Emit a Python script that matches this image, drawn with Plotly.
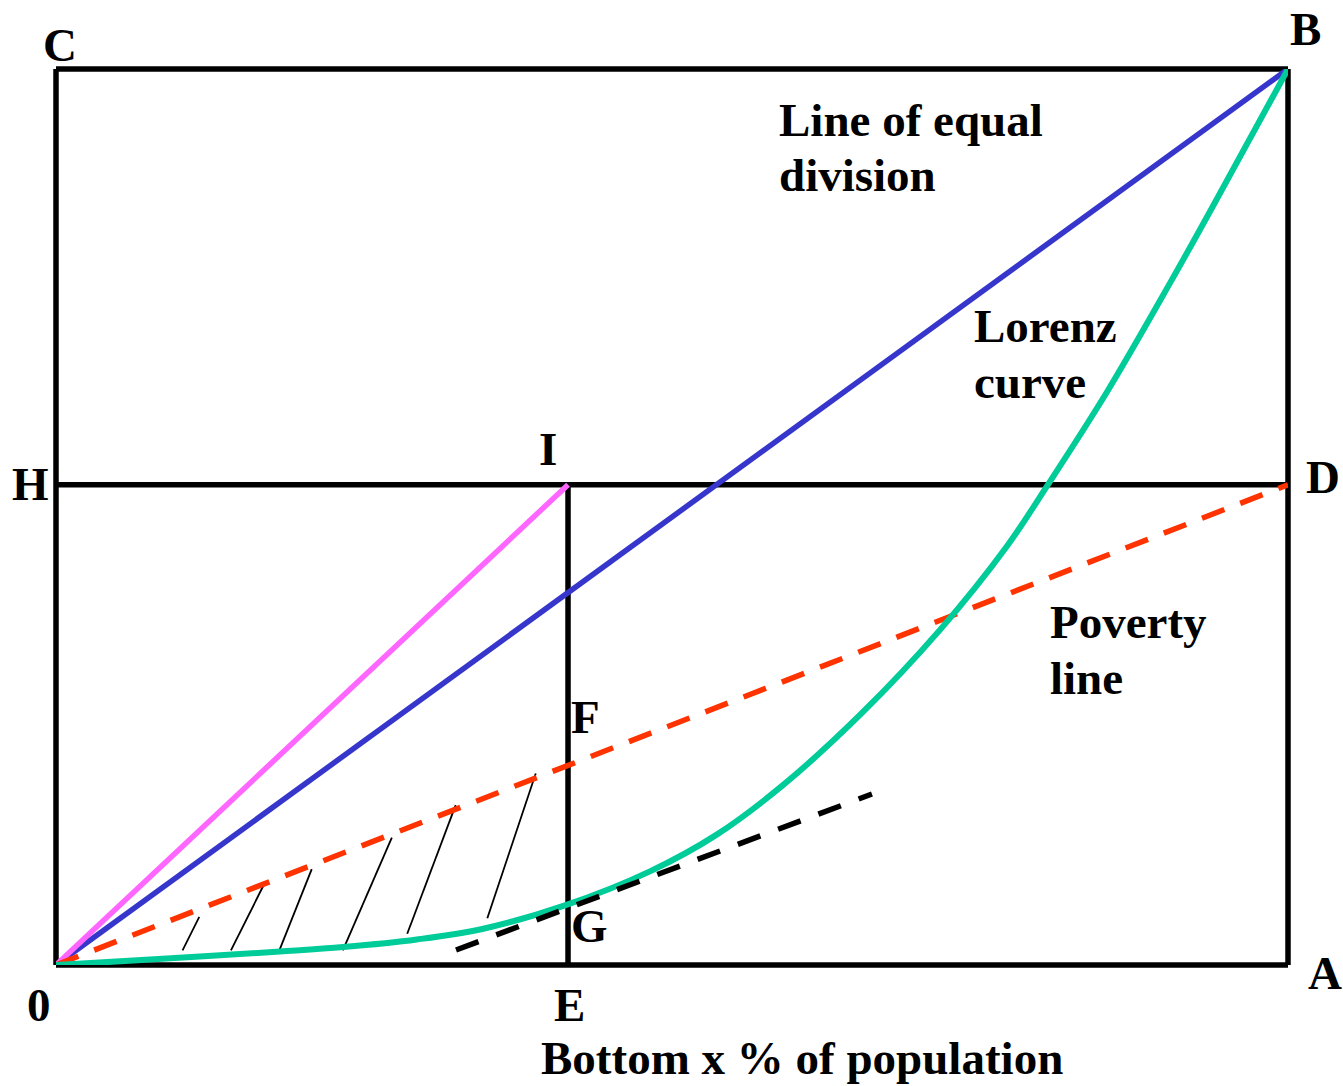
import plotly.graph_objects as go

# ---------------- data (unit square: x = population share, y = income share) ----
# Lorenz curve
lorenz_x = [0.0, 0.0763, 0.1818, 0.2332, 0.2928, 0.3468, 0.4131, 0.4821, 0.5363,
            0.5903, 0.6540, 0.7175, 0.7717, 0.8041, 0.8528, 0.9042, 0.9407, 1.0]
lorenz_y = [0.0, 0.0060, 0.0150, 0.0200, 0.0285, 0.0405, 0.0665, 0.1045, 0.1455,
            0.2010, 0.2810, 0.3740, 0.4670, 0.5340, 0.6390, 0.7610, 0.8510, 1.0]

# line of equal division O -> B
equal_x = [0.0, 1.0]
equal_y = [0.0, 1.0]

# key points
E_x = 0.4156          # bottom x % of population
H_y = 0.536           # height of H / I / D

# poverty line O -> D
poverty_x = [0.0, 1.0]
poverty_y = [0.0, H_y]

# O -> I (magenta)
oi_x = [0.0, E_x]
oi_y = [0.0, H_y]

# tangent to Lorenz curve at G (black dashed)
tangent_x = [0.3247, 0.6623]
tangent_y = [0.0167, 0.1908]

# hatch strokes between Lorenz curve and poverty line
hatch_x0 = [0.1027, 0.1420, 0.1813, 0.2328, 0.2851, 0.3501]
hatch_y0 = [0.0164, 0.0164, 0.0164, 0.0164, 0.0349, 0.0521]
hatch_x1 = [0.1163, 0.1685, 0.2076, 0.2726, 0.3244, 0.3894]
hatch_y1 = [0.0536, 0.0890, 0.1070, 0.1422, 0.1784, 0.2137]

# point labels
point_labels = ["C", "B", "H", "I", "D", "A", "0", "E", "F", "G"]
point_lx = [0.0032, 1.0146, -0.0211, 0.3994, 1.0284, 1.0300, -0.0138, 0.4172, 0.4294, 0.4334]
point_ly = [1.0268, 1.0446, 0.5363, 0.5759, 0.5446, -0.0089, -0.0446, -0.0446, 0.2768, 0.0435]

# descriptive texts (one entry per line, left aligned)
desc_texts = ["Line of equal", "division", "Lorenz", "curve", "Poverty", "line"]
desc_x = [0.5852, 0.5852, 0.7435, 0.7435, 0.8052, 0.8052]
desc_y = [0.9436, 0.8817, 0.7132, 0.6507, 0.3828, 0.3203]

axis_title = "Bottom x % of population"
axis_title_x = 0.6055
axis_title_y = -0.1038

# ---------------- figure ----------------
FONT = "Liberation Serif, Times New Roman, serif"
W, H = 1343, 1086

fig = go.Figure()

# frame lines (paper refs so the outer edges are not clipped)
frame = dict(type="line", xref="paper", yref="paper", layer="below",
             line=dict(color="black", width=5.5))
fig.add_shape(x0=0, y0=0, x1=1, y1=0, **frame)
fig.add_shape(x0=0, y0=1, x1=1, y1=1, **frame)
fig.add_shape(x0=0, y0=0, x1=0, y1=1, **frame)
fig.add_shape(x0=1, y0=0, x1=1, y1=1, **frame)
fig.add_shape(x0=0, y0=H_y, x1=1, y1=H_y, **frame)
fig.add_shape(x0=E_x, y0=0, x1=E_x, y1=H_y, **frame)

# hatch strokes
hx, hy = [], []
for a, b, c, d in zip(hatch_x0, hatch_y0, hatch_x1, hatch_y1):
    hx += [a, c, None]
    hy += [b, d, None]
fig.add_trace(go.Scatter(x=hx, y=hy, mode="lines",
                         line=dict(color="black", width=1.8), hoverinfo="skip"))

fig.add_trace(go.Scatter(x=equal_x, y=equal_y, mode="lines",
                         line=dict(color="#3636CC", width=5.5), hoverinfo="skip"))
fig.add_trace(go.Scatter(x=oi_x, y=oi_y, mode="lines",
                         line=dict(color="#FF66FF", width=5.5), hoverinfo="skip"))
fig.add_trace(go.Scatter(x=poverty_x, y=poverty_y, mode="lines",
                         line=dict(color="#FF3300", width=5.5, dash="24px,17px"),
                         hoverinfo="skip"))
fig.add_trace(go.Scatter(x=lorenz_x, y=lorenz_y, mode="lines",
                         line=dict(color="#00CC99", width=6, shape="spline",
                                   smoothing=1.0),
                         hoverinfo="skip"))
fig.add_trace(go.Scatter(x=tangent_x, y=tangent_y, mode="lines",
                         line=dict(color="black", width=5.5, dash="24px,19px"),
                         hoverinfo="skip"))

tfont = dict(family=FONT, size=47, color="black")
for t, x, y in zip(point_labels, point_lx, point_ly):
    fig.add_annotation(x=x, y=y, xref="paper", yref="paper", text="<b>%s</b>" % t,
                       showarrow=False, xanchor="center", yanchor="middle",
                       font=tfont)
for t, x, y in zip(desc_texts, desc_x, desc_y):
    fig.add_annotation(x=x, y=y, xref="paper", yref="paper", text="<b>%s</b>" % t,
                       showarrow=False, xanchor="left", yanchor="middle",
                       font=tfont)
fig.add_annotation(x=axis_title_x, y=axis_title_y, xref="paper", yref="paper",
                   text="<b>%s</b>" % axis_title, showarrow=False,
                   xanchor="center", yanchor="middle", font=tfont)

fig.update_layout(
    width=W, height=H,
    margin=dict(l=56, r=55, t=69, b=121, pad=0),
    paper_bgcolor="white", plot_bgcolor="white",
    showlegend=False,
    xaxis=dict(range=[0, 1], visible=False, fixedrange=True),
    yaxis=dict(range=[0, 1], visible=False, fixedrange=True),
)

# remove the default page margin so the figure fills the window exactly
fig.write_html(
    "out.html",
    config={"displayModeBar": False},
    post_script="document.body.style.margin='0';document.body.style.overflow='hidden';",
)
